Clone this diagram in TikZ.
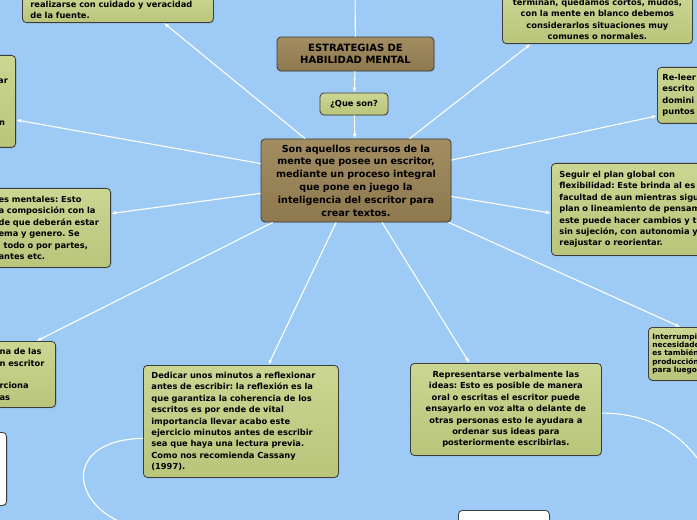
\documentclass[tikz,border=0pt]{standalone}
\usepackage{fontspec}
\setmainfont{DejaVu Sans}
\usetikzlibrary{arrows.meta,calc,shadows}
\definecolor{sky}{RGB}{157,203,245}
\definecolor{leaf}{RGB}{203,214,146}
\definecolor{leafdark}{RGB}{184,197,122}
\definecolor{bark}{RGB}{163,141,97}
\definecolor{barkdark}{RGB}{142,120,78}
\definecolor{edgegray}{RGB}{60,60,60}
\frenchspacing

\begin{document}
\begin{tikzpicture}[x=1bp,y=-1bp,>=Latex,
  box/.style={draw=edgegray,line width=0.8bp,rounded corners=4bp,inner xsep=8bp,inner ysep=4bp,
    top color=leaf,bottom color=leafdark,font=\bfseries\fontsize{8.3bp}{11.4bp}\selectfont,
    drop shadow={opacity=0.3,shadow xshift=0.8bp,shadow yshift=-1bp}},
  brownbox/.style={box,top color=bark,bottom color=barkdark},
  blankbox/.style={box,top color=white,bottom color=white},
  frag/.style={inner sep=0pt,font=\bfseries\fontsize{8.3bp}{11.4bp}\selectfont},
  link/.style={draw=white,line width=1.1bp},
  arr/.style={link,-{Latex[length=5bp,width=4bp]}}]
\useasboundingbox (0,0) rectangle (697,520);
\clip (0,0) rectangle (697,520);
\fill[sky] (0,0) rectangle (697,520);

% centre column
\node[brownbox,minimum width=157bp,minimum height=34bp,align=center,font=\bfseries\fontsize{10bp}{12bp}\selectfont] (title) at (355.5,54) {ESTRATEGIAS DE\\HABILIDAD MENTAL};
\coordinate (up) at (355,-10);
\draw[link] (title) -- (up);
\node[box,minimum width=68bp,minimum height=22bp,inner xsep=4bp] (que) at (354,104) {¿Que son?};
\draw[arr] (title) -- (que);
\node[brownbox,minimum width=190bp,minimum height=83bp,text width=176bp,inner xsep=7bp,align=center,font=\bfseries\fontsize{9.6bp}{12.8bp}\selectfont] (main) at (356,180.5) {Son aquellos recursos de la\\mente que posee un escritor,\\mediante un proceso integral\\que pone en juego la\\inteligencia del escritor para\\crear textos.};
\draw[arr] (que) -- (main);

% top
\node[box,anchor=south west,text width=175bp,align=left] (tl) at (22,23) {realizarse con cuidado y veracidad\\de la fuente.};
\draw[arr] (main) -- ($(tl.south west)!0.74!(tl.south east)$);
\node[box,anchor=south west,text width=174bp,align=center] (tr) at (502,44) {terminan, quedamos cortos, mudos,\\con la mente en blanco debemos\\considerarlos situaciones muy\\comunes o normales.};
\draw[arr] (main) -- ($(tr.south west)!0.15!(tr.south east)$);

% right
\node[box,anchor=north west,minimum height=56bp,text width=70bp,inner xsep=5bp,align=left] (reread) at (657,67) {Re-leer\\escrito\\domini\\puntos};
\draw[arr] (main) -- ($(reread.north west)!0.86!(reread.south west)$);
\node[box,anchor=north west,minimum height=92bp,text width=200bp,align=left] (follow) at (551,163) {Seguir el plan global con\\flexibilidad: Este brinda al es\\facultad de aun mientras sigu\\plan o lineamiento de pensam\\este puede hacer cambios y t\\sin sujeción, con autonomia y\\reajustar o reorientar.};
\draw[arr] (main) -- ($(follow.north west)!0.54!(follow.south west)$);
\node[box,anchor=north west,minimum height=53bp,text width=60bp,inner xsep=4bp,align=left,font=\bfseries\fontsize{7.4bp}{8.4bp}\selectfont] (pause) at (648,327) {Interrumpi\\necesidade\\es también\\producción\\para luego};
\draw[arr] (main) -- ($(pause.north west)!0.47!(pause.north east)$);

% left
\node[box,anchor=north east,minimum height=92bp,text width=60bp] (leftA) at (16,55) {};
\node[frag,anchor=base west] (leftAa) at (-2,84) {ar};
\node[frag,anchor=base west] (leftAb) at (-1,126) {n};
\draw[arr] (main) -- ($(leftA.north east)!0.7!(leftA.south east)$);
\node[box,anchor=north east,minimum height=79bp,text width=104bp,align=left] (leftB) at (111,188) {es mentales: Esto\\a composición con la\\de que deberán estar\\ema y genero. Se\\\hspace*{5bp}todo o por partes,\\antes etc.};
\draw[arr] (main) -- ($(leftB.north east)!0.32!(leftB.south east)$);
\node[box,anchor=north east,minimum height=66bp,text width=48bp,align=left] (leftC) at (56,341) {na de las\\n escritor\\\mbox{}\\rciona\\as};
\draw[arr] (main) -- ($(leftC.north east)!0.3!(leftC.north west)$);

% bottom
\node[box,anchor=north west,minimum height=112bp,text width=179bp,align=left] (reflect) at (143,365) {Dedicar unos minutos a reflexionar\\antes de escribir: la reflexión es la\\que garantiza la coherencia de los\\escritos es por ende de vital\\importancia llevar acabo este\\ejercicio minutos antes de escribir\\sea que haya una lectura previa.\\Como nos recomienda Cassany\\(1997).};
\draw[arr] (main) -- ($(reflect.north west)!0.64!(reflect.north east)$);
\node[box,anchor=north west,minimum height=92bp,text width=175bp,align=center] (speak) at (410,363) {Representarse verbalmente las\\ideas: Esto es posible de manera\\oral o escritas el escritor puede\\ensayarlo en voz alta o delante de\\otras personas esto le ayudara a\\ordenar sus ideas para\\posteriormente escribirlas.};
\draw[arr] (main) -- ($(speak.north west)!0.31!(speak.north east)$);

\node[blankbox,anchor=north east,minimum width=40bp,minimum height=73bp] (w0) at (7,432) {};
\node[blankbox,anchor=north west,minimum width=91bp,minimum height=30bp] (w1) at (458,510) {};

% loose curves
\coordinate (c1) at (135,527);
\coordinate (c2) at (715,490);
\draw[link] ($(reflect.north west)!0.65!(reflect.south west)$) .. controls (60,440) and (70,510) .. (c1);
\draw[link] ($(speak.north east)!0.54!(speak.south east)$) .. controls (660,413) and (697,445) .. (c2);
\end{tikzpicture}
\end{document}
